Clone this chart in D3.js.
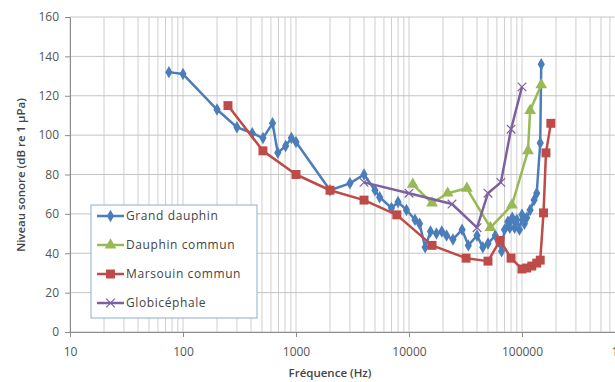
<!DOCTYPE html>
<html>
<head>
<meta charset="utf-8">
<script src="https://cdn.jsdelivr.net/npm/d3@7"></script>
<style>
  body { margin: 0; background: #fff; }
  text { font-family: "Open Sans", "DejaVu Sans", sans-serif; }
</style>
</head>
<body>
<div id="chart"></div>
<script>
// Sound level vs frequency, four cetaceans (log frequency axis)

var grandDauphin = [
  [75, 132], [100, 131], [200, 113], [300, 104], [410, 101], [510, 98.5], [620, 106],
  [690, 91], [810, 94.5], [910, 98.5], [1000, 96.5], [2000, 72], [3000, 75.5], [4000, 80],
  [5000, 72], [5500, 68.5], [7000, 63], [8000, 66], [9500, 62], [11300, 57], [12400, 55],
  [13900, 43], [15500, 51], [17500, 50], [19500, 51], [21500, 49], [24500, 47], [29500, 52],
  [33500, 44], [40000, 49], [45000, 43], [50000, 45], [58000, 49], [62000, 46], [66000, 41],
  [70000, 52], [75000, 56], [78000, 53], [82000, 58], [86000, 53], [90000, 57], [95000, 52],
  [100000, 59.5], [105000, 55], [110000, 58], [118000, 62], [128000, 67], [135000, 70.5],
  [145000, 96], [148000, 136]
];
var dauphinCommun = [
  [10800, 75], [16000, 65.5], [22000, 70.5], [32500, 73], [52500, 53], [81500, 64.5],
  [113000, 92], [118000, 112.5], [148000, 125.5]
];
var marsouinCommun = [
  [250, 115], [510, 92], [1000, 80], [2000, 72], [4000, 67], [7800, 59.5], [16000, 44],
  [32000, 37.5], [50000, 36], [64000, 46.5], [80000, 37.5], [100000, 32], [110000, 32.5],
  [122000, 33.5], [135000, 35], [145000, 36.5], [155000, 60.5], [163000, 91], [180000, 106]
];
var globicephale = [
  [4000, 76], [10000, 70.5], [24000, 65], [40000, 53], [50000, 70.5], [65000, 76],
  [80000, 103], [100000, 124.5]
];

var seriesNames = ["Grand dauphin", "Dauphin commun", "Marsouin commun", "Globicéphale"];
var seriesData = [grandDauphin, dauphinCommun, marsouinCommun, globicephale];
var seriesColors = ["#4a7ebb", "#98b954", "#be4b48", "#7d60a0"];
var seriesMarkers = ["diamond", "triangle", "square", "cross"];

var xTicks = [10, 100, 1000, 10000, 100000, 1000000];
var yTicks = [0, 20, 40, 60, 80, 100, 120, 140, 160];

var svgWidth = 615;
var svgHeight = 382;
var margin = { top: 17, right: -20, bottom: 50, left: 70 };
var width = svgWidth - margin.left - margin.right;
var height = svgHeight - margin.top - margin.bottom;

var svg = d3.select("#chart")
  .append("svg")
  .attr("width", svgWidth)
  .attr("height", svgHeight);

var chartGroup = svg.append("g")
  .attr("transform", `translate(${margin.left}, ${margin.top})`);

var xScale = d3.scaleLog().domain([10, 1000000]).range([0, width]);
var yScale = d3.scaleLinear().domain([0, 160]).range([height, 0]);

// minor + major vertical gridlines
var minorX = [];
for (var dec = 10; dec < 1000000; dec *= 10) {
  for (var k = 1; k < 10; k++) minorX.push(dec * k);
}
minorX.push(1000000);

chartGroup.append("g")
  .selectAll("line")
  .data(minorX)
  .enter()
  .append("line")
  .attr("x1", d => xScale(d))
  .attr("x2", d => xScale(d))
  .attr("y1", 0)
  .attr("y2", height)
  .attr("stroke", "#cfcfcf")
  .attr("stroke-width", 1);

chartGroup.append("g")
  .selectAll("line")
  .data(yTicks)
  .enter()
  .append("line")
  .attr("x1", 0)
  .attr("x2", width)
  .attr("y1", d => yScale(d))
  .attr("y2", d => yScale(d))
  .attr("stroke", "#c4c4c4")
  .attr("stroke-width", 1);

// axes
var bottomAxis = d3.axisBottom(xScale)
  .tickValues(xTicks)
  .tickFormat(d3.format("d"))
  .tickSize(5)
  .tickPadding(10);
var leftAxis = d3.axisLeft(yScale)
  .tickValues(yTicks)
  .tickSize(5)
  .tickPadding(6);

var xAxis = chartGroup.append("g")
  .attr("transform", `translate(0, ${height})`)
  .call(bottomAxis);
var yAxis = chartGroup.append("g").call(leftAxis);

[xAxis, yAxis].forEach(function (ax) {
  ax.select(".domain").attr("stroke", "#8c8c8c");
  ax.selectAll(".tick line").attr("stroke", "#8c8c8c");
  ax.selectAll(".tick text")
    .attr("fill", "#555")
    .style("font-size", "12px");
});

// axis titles
svg.append("text")
  .attr("x", 330)
  .attr("y", 377)
  .attr("text-anchor", "middle")
  .attr("fill", "#444")
  .style("font-size", "11.5px")
  .style("font-weight", "600")
  .text("Fréquence (Hz)");

svg.append("text")
  .attr("transform", "rotate(-90)")
  .attr("x", -175)
  .attr("y", 25)
  .attr("text-anchor", "middle")
  .attr("fill", "#444")
  .style("font-size", "11.5px")
  .style("font-weight", "600")
  .text("Niveau sonore (dB re 1 µPa)");

// marker drawing
function drawMarker(g, type, color, size) {
  if (type === "diamond") {
    g.append("path")
      .attr("d", d3.symbol().type(d3.symbolDiamond).size(size * 4.5)())
      .attr("fill", color);
  } else if (type === "triangle") {
    g.append("path")
      .attr("d", d3.symbol().type(d3.symbolTriangle).size(size * 6)())
      .attr("fill", color);
  } else if (type === "square") {
    g.append("path")
      .attr("d", d3.symbol().type(d3.symbolSquare).size(size * 8)())
      .attr("fill", color);
  } else {
    g.append("path")
      .attr("d", d3.symbol().type(d3.symbolTimes).size(size * 5)())
      .attr("fill", "none")
      .attr("stroke", color)
      .attr("stroke-width", 1.2);
  }
}

var line = d3.line()
  .x(d => xScale(d[0]))
  .y(d => yScale(d[1]));

seriesData.forEach(function (data, i) {
  var grp = chartGroup.append("g");
  grp.append("path")
    .datum(data)
    .attr("d", line)
    .attr("fill", "none")
    .attr("stroke", seriesColors[i])
    .attr("stroke-width", 2.5)
    .attr("stroke-linejoin", "round");

  grp.selectAll("g.pt")
    .data(data)
    .enter()
    .append("g")
    .attr("class", "pt")
    .attr("transform", d => `translate(${xScale(d[0])}, ${yScale(d[1])})`)
    .each(function () {
      drawMarker(d3.select(this), seriesMarkers[i], seriesColors[i], 10);
    });
});

// legend
var legend = svg.append("g").attr("transform", "translate(91, 205)");
legend.append("rect")
  .attr("width", 166)
  .attr("height", 113)
  .attr("fill", "#fff")
  .attr("stroke", "#8faccf")
  .attr("stroke-width", 1);

seriesNames.forEach(function (name, i) {
  var row = legend.append("g")
    .attr("transform", `translate(0, ${11 + i * 29})`);
  row.append("line")
    .attr("x1", 6)
    .attr("x2", 33)
    .attr("stroke", seriesColors[i])
    .attr("stroke-width", 2.5);
  var m = row.append("g").attr("transform", "translate(19.5, 0)");
  drawMarker(m, seriesMarkers[i], seriesColors[i], 10);
  row.append("text")
    .attr("x", 35)
    .attr("y", 4)
    .attr("fill", "#444")
    .style("font-size", "12px")
    .style("letter-spacing", "0.6px")
    .text(name);
});
</script>
</body>
</html>
